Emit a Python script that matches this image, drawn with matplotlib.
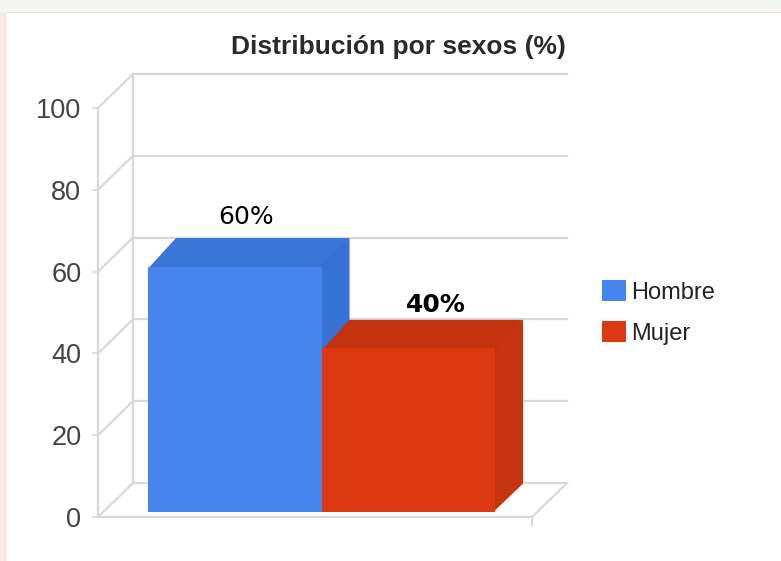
import matplotlib
matplotlib.use("Agg")
import matplotlib.pyplot as plt
from matplotlib.patches import Polygon, Rectangle

# data
title = "Distribución por sexos (%)"
series = ["Hombre", "Mujer"]
values = [60, 40]
value_labels = ["60%", "40%"]
label_weights = ["normal", "bold"]
yticks = [0, 20, 40, 60, 80, 100]

front_colors = ["#4684ee", "#dc3912"]
top_colors = ["#3a75d8", "#c4330f"]
side_colors = ["#3671d4", "#c6350f"]
grid_color = "#d9d9d9"

W, H = 781, 561
fig = plt.figure(figsize=(W / 100, H / 100), dpi=100)
fig.patch.set_facecolor("white")

# faint page edges of the screenshot
fig.add_artist(Rectangle((0, 1 - 12 / H), 1, 12 / H, transform=fig.transFigure,
                         facecolor="#f5f6f4", edgecolor="none"))
fig.add_artist(Rectangle((0, 0), 7 / W, 1 - 12 / H, transform=fig.transFigure,
                         facecolor="#f8ebe8", edgecolor="none"))
fig.add_artist(plt.Line2D([7 / W, 1], [1 - 12 / H, 1 - 12 / H], transform=fig.transFigure,
                          color="#f5dcdc", lw=0.8))

# front plane of the 3d box
left, right, bottom, top = 98, 532, 517, 108
ax = fig.add_axes([left / W, 1 - bottom / H, (right - left) / W, (bottom - top) / H])
ax.set_xlim(0, 1)
ax.set_ylim(0, 100)
for s in ax.spines.values():
    s.set_visible(False)
ax.set_xticks([])
ax.set_yticks(yticks)
ax.tick_params(axis="y", length=4, width=1.2, color=grid_color, pad=8,
               labelsize=19.5, labelcolor="#444444")
for lab in ax.get_yticklabels():
    lab.set_fontfamily("Liberation Sans")

# depth of the box (x units, value units)
DX, DY = 35 / (right - left), 34 / ((bottom - top) / 100)

kw = dict(color=grid_color, lw=1.6, clip_on=False, zorder=1)
for v in yticks:
    ax.plot([0, DX], [v, v + DY], **kw)
    ax.plot([DX, 1 + DX], [v + DY, v + DY], **kw)
ax.plot([0, 0], [0, 100], **kw)
ax.plot([DX, DX], [DY, 100 + DY], **kw)
ax.plot([0, 1], [0, 0], **kw)
ax.plot([1, 1 + DX], [0, DY], **kw)
ax.plot([1, 1], [0, -2], **kw)

# bars
bw = 0.40
x0 = [0.115, 0.515]
bdx, bdy = 28 / (right - left), 7.0
base = 1.2
fronts = ax.bar(x0, values, width=bw, bottom=base, align="edge",
                color=front_colors, zorder=3, clip_on=False)
for i, v in enumerate(values):
    # faces start a bit inside the front face so no seam shows
    xl, xr, yb, yt = x0[i], x0[i] + bw, base, base + v
    ov = 0.004
    ax.add_patch(Polygon([(xl, yt - 0.5), (xr, yt - 0.5), (xr + bdx, yt + bdy), (xl + bdx, yt + bdy)],
                         closed=True, facecolor=top_colors[i], edgecolor="none",
                         zorder=2, clip_on=False))
    ax.add_patch(Polygon([(xr - ov, yb), (xr + bdx, yb + bdy), (xr + bdx, yt + bdy), (xr - ov, yt)],
                         closed=True, facecolor=side_colors[i], edgecolor="none",
                         zorder=2 - i * 0.5, clip_on=False))

# value labels
label_pos = [(0.342, 73.3), (0.778, 51.8)]
for (lx, ly), txt, wt in zip(label_pos, value_labels, label_weights):
    ax.text(lx, ly, txt, ha="center", va="center", fontsize=18, fontweight=wt,
            fontfamily="DejaVu Sans", color="black", zorder=5)

fig.text(398 / W, 1 - 47 / H, title, ha="center", va="center", fontsize=19,
         fontweight="bold", fontfamily="Liberation Sans", color="#2a2a2a")

handles = [Rectangle((0, 0), 1, 1, facecolor=c, edgecolor="none") for c in front_colors]
leg = fig.legend(handles, series, loc="upper left", bbox_to_anchor=(602 / W, 1 - 280 / H),
                 frameon=False, handlelength=1.0, handleheight=1.0,
                 handletextpad=0.25, labelspacing=0.75, borderpad=0, borderaxespad=0,
                 prop={"family": "Liberation Sans", "size": 17})
for t in leg.get_texts():
    t.set_color("#222222")

fig.savefig("out.png", dpi=100)
